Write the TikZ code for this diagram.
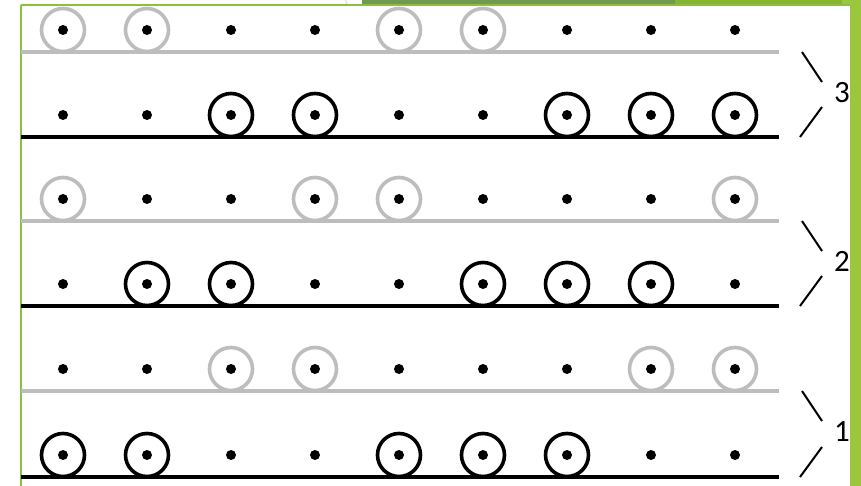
\documentclass[tikz,border=0pt]{standalone}
\usepackage{fontspec}
\setmainfont{Carlito}
\definecolor{grayc}{HTML}{BDBDBD}
\definecolor{framegreen}{HTML}{8DC03A}
\definecolor{bargreen}{HTML}{9BC63D}
\definecolor{darkbandgreen}{HTML}{6F9A4F}
\definecolor{midbandgreen}{HTML}{86B534}
\tikzset{
  ring/.style={circle, draw, line width=3.6pt, minimum size=43pt, inner sep=0pt},
  dotn/.style={circle, fill=black, minimum size=10pt, inner sep=0pt},
  track/.style={line width=4pt},
  brace/.style={line width=2pt, black},
  lbl/.style={font=\fontsize{31}{32}\selectfont, inner sep=0pt}
}
\begin{document}
\begin{tikzpicture}[x=1pt,y=-1pt]
\useasboundingbox (0,0) rectangle (861,486);
\fill[white] (0,0) rectangle (861,486);
% frame
\fill[darkbandgreen] (362,0) rectangle (675,4.5);
\fill[midbandgreen] (675,0) rectangle (842,4.5);
\fill[bargreen] (842,0) rectangle (861,4.5);
\fill[bargreen] (850,0) rectangle (861,486);
\draw[grayc!60, line width=0.8pt] (345.5,0) -- (347,4);
\draw[framegreen, line width=2pt] (21,5) -- (850,5);
\draw[framegreen, line width=1.3pt] (21,5) -- (21,486);
% rows
\foreach \ly/\c/\r/\a/\b/\cc/\d/\e/\f/\g/\h/\k in {
  52/grayc/1/1/1/0/0/1/1/0/0/0,
  137/black/2/0/0/1/1/0/0/1/1/1,
  221/grayc/3/1/0/0/1/1/0/0/0/1,
  306/black/4/0/1/1/0/0/1/1/1/0,
  391/grayc/5/0/0/1/1/0/0/0/1/1,
  477/black/6/1/1/0/0/1/1/1/0/0}{
  \draw[track, \c] (21,\ly) coordinate (l\r) -- (779,\ly) coordinate (r\r);
  \foreach \p [count=\i] in {\a,\b,\cc,\d,\e,\f,\g,\h,\k}{
    \pgfmathsetmacro{\xx}{63+84*(\i-1)}
    \node[dotn] (d\r-\i) at (\xx,\ly-22) {};
    \ifnum\p=1
      \node[ring, draw=\c] (c\r-\i) at (\xx,\ly-22) {};
    \fi
  }
}
% group brackets
\foreach \g/\ly/\lb/\lab in {3/52/137/3, 2/221/306/2, 1/391/477/1}{
  \coordinate (ta\g) at (802,\ly);
  \coordinate (tb\g) at (822,\ly+30);
  \coordinate (ba\g) at (822,\lb-30);
  \coordinate (bb\g) at (800,\lb);
  \draw[brace] (ta\g) -- (tb\g);
  \draw[brace] (ba\g) -- (bb\g);
  \node[lbl] (g\g) at (842,{(\ly+\lb)/2-2}) {\lab};
}
\end{tikzpicture}
\end{document}
